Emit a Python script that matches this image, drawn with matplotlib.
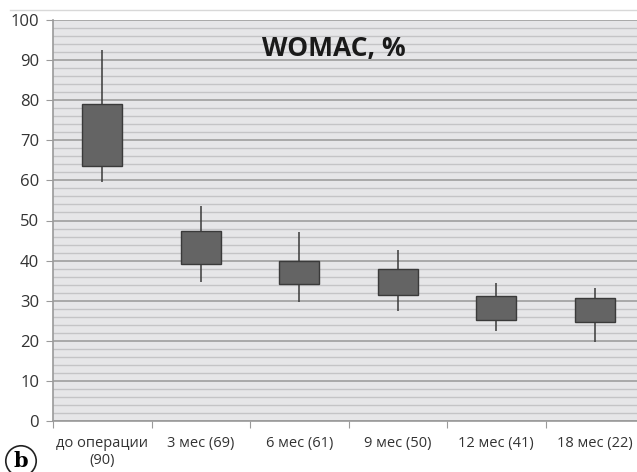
import matplotlib.pyplot as plt
from matplotlib.ticker import MultipleLocator

plt.rcParams['font.family'] = ['Open Sans', 'DejaVu Sans']

categories = ["до операции\n(90)", "3 мес (69)", "6 мес (61)", "9 мес (50)", "12 мес (41)", "18 мес (22)"]
whisker_low = [59.5, 34.6, 29.8, 27.4, 22.4, 19.8]
box_low = [63.7, 39.2, 34.1, 31.4, 25.3, 24.8]
box_high = [79.0, 47.3, 39.9, 37.9, 31.2, 30.7]
whisker_high = [92.6, 53.5, 47.2, 42.6, 34.3, 33.1]

fig = plt.figure(figsize=(6.37, 4.72), dpi=100)
ax = fig.add_axes([53 / 637, 1 - 421 / 472, 591 / 637, 401 / 472])
ax.set_facecolor("#e6e6e8")

x = list(range(len(categories)))
ax.vlines(x, whisker_low, whisker_high, color="#3a3a3a", lw=1.1, zorder=3)
heights = [h - l for h, l in zip(box_high, box_low)]
ax.bar(x, heights, bottom=box_low, width=0.41, color="#646464",
       edgecolor="#3a3a3a", lw=1.0, zorder=4)

ax.set_xlim(-0.5, len(categories) - 0.5)
ax.set_ylim(0, 100)
ax.yaxis.set_major_locator(MultipleLocator(10))
ax.yaxis.set_minor_locator(MultipleLocator(2))
ax.grid(which="major", axis="y", color="#a4a4a4", lw=1.3, zorder=1)
ax.grid(which="minor", axis="y", color="#c4c4c6", lw=1.0, zorder=1)

ax.set_xticks([i - 0.5 for i in x] + [len(x) - 0.5])
ax.set_xticklabels([])
ax.set_xticks(x, minor=True)
ax.set_xticklabels(categories, minor=True, fontsize=10.5, color="#333333")
ax.tick_params(axis="x", which="major", length=5, color="#9a9a9a", direction="out")
ax.tick_params(axis="x", which="minor", length=0, pad=11)
ax.tick_params(axis="y", which="major", length=5, color="#9a9a9a", labelsize=12,
               labelcolor="#333333", pad=5)
ax.tick_params(axis="y", which="minor", length=0)

for side in ["top", "right"]:
    ax.spines[side].set_visible(False)
for side in ["left", "bottom"]:
    ax.spines[side].set_color("#9a9a9a")
    ax.spines[side].set_linewidth(1.2)

ax.text(0.475, 0.962, "WOMAC, %", transform=ax.transAxes, ha="center", va="top",
        fontsize=19, fontweight="bold", color="#1a1a1a")

# chart frame line at top
fig.add_artist(plt.Line2D([10 / 637, 1], [1 - 10 / 472] * 2, color="#d8d8d8", lw=1.0))

# panel letter
fig.text(21 / 637, 1 - 461 / 472, "b", ha="center", va="center", fontsize=15,
         fontweight="bold", family="DejaVu Serif",
         bbox=dict(boxstyle="circle,pad=0.25", fc="white", ec="#222222", lw=1.2))

fig.savefig("out.png", dpi=100)
